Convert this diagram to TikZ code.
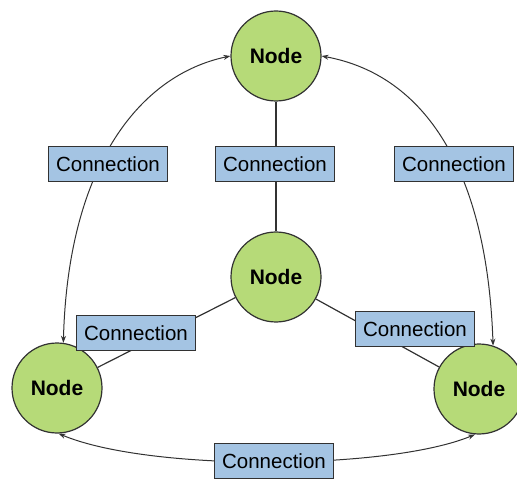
\documentclass[tikz,border=0pt]{standalone}
\usepackage{fontspec}
\setmainfont{Liberation Sans}
\usetikzlibrary{arrows.meta}
\definecolor{nodegreen}{RGB}{182,218,120}
\definecolor{labelblue}{RGB}{164,196,227}
\definecolor{edgegray}{RGB}{50,50,50}
\tikzset{
  hub/.style={circle, draw=edgegray, line width=1.2pt, fill=nodegreen,
    minimum size=90pt, inner sep=0pt,
    font=\fontsize{21}{24}\selectfont\bfseries},
  conn/.style={rectangle, draw=edgegray, line width=1.2pt, fill=labelblue,
    minimum width=119pt, minimum height=35pt, inner sep=0pt,
    font=\fontsize{20.5}{24}\selectfont},
  link/.style={draw=edgegray, line width=1.2pt},
  duplex/.style={draw=edgegray, line width=1pt,
    {Stealth[length=7pt,width=5pt]}-{Stealth[length=7pt,width=5pt]}}
}
\begin{document}
\begin{tikzpicture}[x=1pt,y=-1pt]
  \useasboundingbox (0,0) rectangle (517,481);
  % hubs
  \node[hub] (top) at (276,56) {Node};
  \node[hub] (mid) at (276,277) {Node};
  \node[hub] (bl) at (57,388) {Node};
  \node[hub] (br) at (479,389) {Node};
  % straight links from the central hub
  \draw[link] (top) -- (mid);
  \draw[link] (mid) -- (bl);
  \draw[link] (mid) -- (br);
  % curved two-way links around the outside
  \draw[duplex] (top.west) .. controls (140,75) and (68,165) .. (bl.82);
  \draw[duplex] (top.east) .. controls (425,75) and (487,170) .. (br.72);
  \draw[duplex] (bl.-88) .. controls (150,472) and (390,470) .. (br.-95);
  % connection labels
  \node[conn] (c1) at (108,164) {Connection};
  \node[conn] (c2) at (275,164) {Connection};
  \node[conn] (c3) at (454,164) {Connection};
  \node[conn] (c4) at (136,333) {Connection};
  \node[conn] (c5) at (415,329) {Connection};
  \node[conn] (c6) at (274,461) {Connection};
\end{tikzpicture}
\end{document}
